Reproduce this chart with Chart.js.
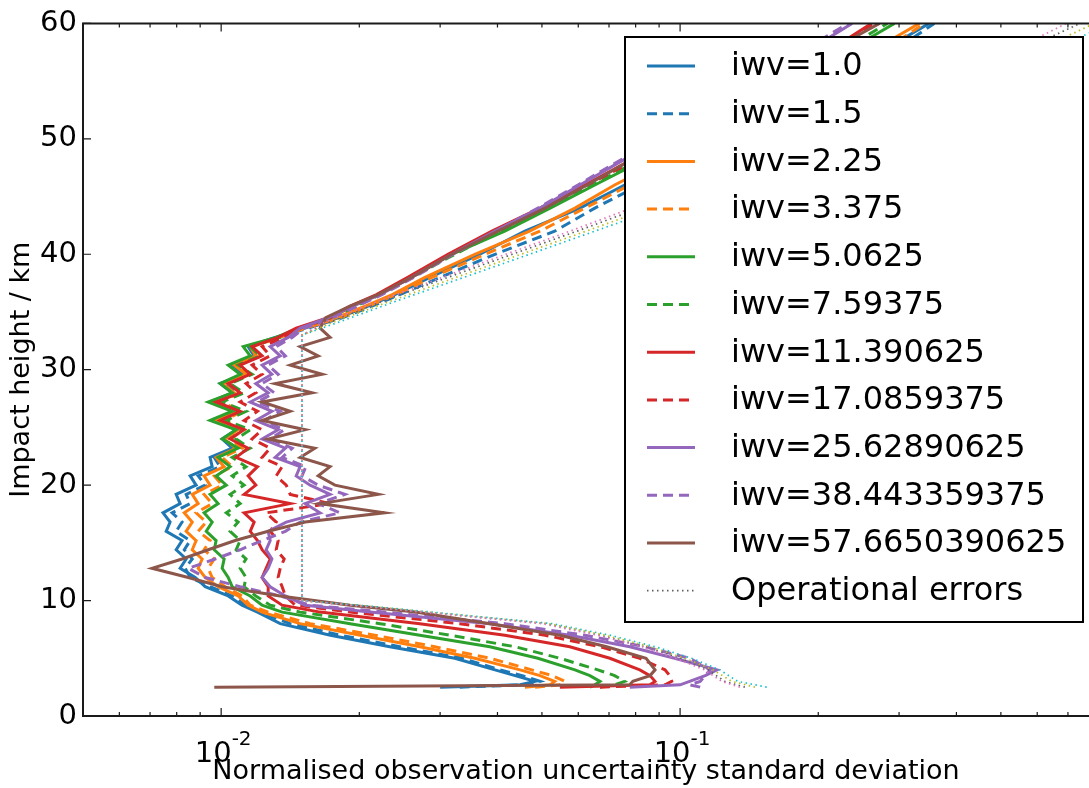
<!DOCTYPE html>
<html><head><meta charset="utf-8">
<script src="https://cdn.jsdelivr.net/npm/chart.js@4.4.0/dist/chart.umd.min.js"></script>
<style>html,body{margin:0;padding:0;background:#fff;overflow:hidden}canvas{display:block}</style>
</head><body>
<canvas id="c" width="1089" height="788"></canvas>
<script>
// Impact heights (km) shared by every iwv series
const HEIGHTS = [2.5, 2.7, 3, 3.5, 4, 5, 6, 7, 8, 9, 9.6,
  10.4, 11.2, 12.0, 12.8, 13.6, 14.4, 15.2, 16.0, 16.8, 17.6, 18.4, 19.2, 20.0, 20.8, 21.6, 22.4, 23.2, 24.0, 24.8,
  25.6, 26.4, 27.2, 28.0, 28.8, 29.6, 30.4, 31.2, 32.0, 32.8,
  33.6, 34.5, 35.5, 36.5, 38, 40, 42, 44, 46, 48, 50, 52, 54, 56, 58, 60];

const SERIES_LABELS = ['iwv=1.0', 'iwv=1.5', 'iwv=2.25', 'iwv=3.375', 'iwv=5.0625', 'iwv=7.59375',
  'iwv=11.390625', 'iwv=17.0859375', 'iwv=25.62890625', 'iwv=38.443359375', 'iwv=57.6650390625'];
const OP_LABEL = 'Operational errors';

const IWV_1_0 = [0.0300, 0.0448, 0.0483, 0.0437, 0.0395, 0.0323, 0.0233, 0.0173, 0.01345, 0.0120, 0.0111,
  0.01036, 0.00923, 0.00878, 0.00814, 0.00839, 0.00798, 0.00822, 0.00759, 0.00774, 0.00747, 0.00814, 0.00798, 0.00882, 0.00856, 0.00956, 0.00946, 0.01057, 0.01005, 0.01078,
  0.00966, 0.01068, 0.00946, 0.01057, 0.00995, 0.01122, 0.01057, 0.0118, 0.01145, 0.01311,
  0.01524, 0.0180, 0.0209, 0.0239, 0.0285, 0.0366, 0.0459, 0.0605, 0.0757, 0.0949, 0.1191, 0.149, 0.182, 0.229, 0.286, 0.349];
const IWV_1_5 = [0.0331, 0.0459, 0.0495, 0.0453, 0.0405, 0.0335, 0.0245, 0.0182, 0.01414, 0.01216, 0.01128,
  0.01057, 0.00946, 0.00856, 0.00835, 0.00865, 0.00831, 0.00856, 0.00798, 0.00822, 0.00782, 0.00856, 0.00839, 0.00923, 0.00891, 0.00995, 0.00966, 0.01078, 0.01015, 0.0110,
  0.00985, 0.01078, 0.00966, 0.01078, 0.01015, 0.01133, 0.01078, 0.0119, 0.01157, 0.01331,
  0.01547, 0.01835, 0.0213, 0.0245, 0.0300, 0.0395, 0.0533, 0.0652, 0.0817, 0.1049, 0.1315, 0.1607, 0.1964, 0.2436, 0.3015, 0.358];
const IWV_2_25 = [0.0459, 0.0521, 0.0533, 0.0495, 0.0448, 0.0357, 0.0271, 0.0201, 0.01486, 0.01228, 0.01145,
  0.01089, 0.00985, 0.00923, 0.00891, 0.00909, 0.00865, 0.00882, 0.00839, 0.00865, 0.00831, 0.00891, 0.00865, 0.00946, 0.00918, 0.01015, 0.00975, 0.01078, 0.01015, 0.01089,
  0.00975, 0.01078, 0.00956, 0.01068, 0.01005, 0.01133, 0.01068, 0.0119, 0.01157, 0.01331,
  0.0151, 0.01781, 0.0206, 0.0236, 0.0278, 0.0357, 0.0470, 0.0590, 0.0720, 0.0903, 0.1134, 0.1421, 0.1750, 0.2180, 0.272, 0.332];
const IWV_3_375 = [0.0483, 0.0547, 0.0561, 0.0526, 0.0475, 0.0385, 0.0292, 0.0216, 0.01563, 0.01266, 0.01157,
  0.01111, 0.0102, 0.00956, 0.00937, 0.00966, 0.00918, 0.00946, 0.00891, 0.00928, 0.00882, 0.00956, 0.00918, 0.01005, 0.00966, 0.01057, 0.01005, 0.01111, 0.01046, 0.01122,
  0.01015, 0.01111, 0.00995, 0.0110, 0.01036, 0.01157, 0.01089, 0.01216, 0.01168, 0.01345,
  0.01524, 0.01816, 0.0209, 0.0240, 0.0288, 0.0376, 0.0495, 0.0620, 0.0777, 0.0973, 0.1220, 0.1505, 0.1867, 0.2323, 0.286, 0.341];
const IWV_5_0625 = [0.0636, 0.0652, 0.0669, 0.0636, 0.0590, 0.0490, 0.0385, 0.0271, 0.0191, 0.01358, 0.01228,
  0.01157, 0.01057, 0.01036, 0.01005, 0.01015, 0.00966, 0.00975, 0.00928, 0.00956, 0.00918, 0.00985, 0.00946, 0.01026, 0.00975, 0.01046, 0.00985, 0.01089, 0.01005, 0.01078,
  0.00946, 0.01057, 0.00937, 0.01057, 0.00995, 0.0110, 0.01036, 0.01157, 0.01117, 0.01318,
  0.01471, 0.01727, 0.0193, 0.0220, 0.0258, 0.0318, 0.0415, 0.0521, 0.0652, 0.0817, 0.1024, 0.1270, 0.1567, 0.1935, 0.2404, 0.2932];
const IWV_7_59375 = [0.0669, 0.0720, 0.0757, 0.0720, 0.0662, 0.0547, 0.0437, 0.0315, 0.0222, 0.01486, 0.01279,
  0.0119, 0.01122, 0.01133, 0.0110, 0.01133, 0.01078, 0.0110, 0.01046, 0.01089, 0.01026, 0.0110, 0.01046, 0.01122, 0.01057, 0.01133, 0.01057, 0.01157, 0.01078, 0.01157,
  0.01026, 0.01133, 0.01005, 0.01122, 0.01046, 0.01168, 0.01089, 0.01216, 0.01157, 0.01345,
  0.01486, 0.01745, 0.0196, 0.0222, 0.0260, 0.0323, 0.0405, 0.0516, 0.0643, 0.0801, 0.1000, 0.1232, 0.1528, 0.1877, 0.2323, 0.2830];
const IWV_11_39 = [0.0547, 0.0860, 0.0882, 0.0860, 0.0817, 0.0703, 0.0575, 0.0415, 0.0271, 0.01643, 0.01358,
  0.01266, 0.01266, 0.01228, 0.01253, 0.01279, 0.01228, 0.0120, 0.01157, 0.0118, 0.01122, 0.01414, 0.01122, 0.0119, 0.01145, 0.0120, 0.01078, 0.01145, 0.01046, 0.01122,
  0.00995, 0.0110, 0.00975, 0.0110, 0.01036, 0.01157, 0.0110, 0.01228, 0.01168, 0.01331,
  0.01457, 0.0171, 0.0191, 0.0218, 0.0255, 0.0312, 0.0389, 0.0495, 0.0620, 0.0769, 0.0959, 0.1180, 0.1456, 0.1775, 0.2180, 0.2613];
const IWV_17_09 = [0.0669, 0.0927, 0.0959, 0.0949, 0.0927, 0.0817, 0.0669, 0.0508, 0.0331, 0.0191, 0.0145,
  0.0138, 0.01358, 0.01331, 0.01345, 0.01372, 0.01318, 0.01331, 0.01279, 0.01318, 0.01253, 0.01727, 0.01414, 0.01386, 0.01318, 0.01358, 0.01228, 0.01279, 0.01168, 0.01228,
  0.01122, 0.0120, 0.0110, 0.0119, 0.01133, 0.01228, 0.01168, 0.01279, 0.01228, 0.01372,
  0.01486, 0.01727, 0.0193, 0.0220, 0.0258, 0.0315, 0.0395, 0.0500, 0.0627, 0.0785, 0.0978, 0.1208, 0.1475, 0.1800, 0.2203, 0.2663];
const IWV_25_63 = [0.0777, 0.1000, 0.1049, 0.1134, 0.1203, 0.0973, 0.0777, 0.0575, 0.0385, 0.0211, 0.01524,
  0.0138, 0.01279, 0.01228, 0.01266, 0.0129, 0.01253, 0.01279, 0.01266, 0.01386, 0.01643, 0.01524, 0.01727, 0.01563, 0.01457, 0.01486, 0.01311, 0.0138, 0.01228, 0.01331,
  0.0119, 0.0129, 0.01157, 0.01266, 0.0119, 0.0129, 0.01228, 0.01345, 0.01279, 0.014,
  0.01486, 0.0171, 0.0193, 0.0222, 0.0260, 0.0318, 0.0395, 0.0495, 0.0605, 0.0740, 0.0912, 0.1106, 0.1350, 0.1630, 0.1964, 0.2370];
const IWV_38_44 = [0.1106, 0.1049, 0.1106, 0.1134, 0.1163, 0.1049, 0.0838, 0.0620, 0.0415, 0.0227, 0.01563,
  0.01345, 0.0110, 0.00923, 0.00848, 0.0097, 0.0110, 0.01228, 0.0138, 0.01486, 0.01816, 0.01627, 0.0186, 0.01627, 0.0150, 0.0153, 0.01358, 0.01428, 0.01279, 0.01372,
  0.0124, 0.01345, 0.0120, 0.01305, 0.01228, 0.01331, 0.01266, 0.0138, 0.01318, 0.01428,
  0.01516, 0.01745, 0.0198, 0.0224, 0.0263, 0.0320, 0.0397, 0.0490, 0.0599, 0.0729, 0.0894, 0.1084, 0.1315, 0.1583, 0.1915, 0.2323];
const IWV_57_67 = [0.00966, 0.0777, 0.0789, 0.0860, 0.0882, 0.0843, 0.0692, 0.0547, 0.0385, 0.0265, 0.0191,
  0.01345, 0.01005, 0.00848, 0.00707, 0.00822, 0.00937, 0.01073, 0.01266, 0.01524, 0.0227, 0.01643, 0.0220, 0.0177, 0.01627, 0.01727, 0.01486, 0.0160, 0.01266, 0.01524,
  0.01228, 0.01414, 0.01228, 0.01578, 0.01311, 0.0166, 0.01414, 0.01627, 0.01486, 0.01727,
  0.01643, 0.0169, 0.0191, 0.0220, 0.0260, 0.0318, 0.0401, 0.0508, 0.0627, 0.0769, 0.0959, 0.1180, 0.1456, 0.1793, 0.2203, 0.2720];

// Operational error profiles (dotted)
const OP_HEIGHTS = [2.5, 3, 4, 5, 6, 7, 8, 9, 9.5, 10, 33, 34, 36, 38, 40, 42, 44, 46, 48, 50, 52, 54, 56, 58, 60];
const OP_A = [0.1384, 0.1251, 0.1151, 0.1000, 0.0838, 0.0669, 0.0508, 0.0278, 0.0206, 0.0150, 0.0150, 0.01685, 0.0227, 0.0312, 0.0431, 0.0596, 0.0817, 0.1106, 0.1475, 0.1964, 0.2613, 0.3467, 0.450, 0.579, 0.744];
const OP_B = [0.1544, 0.1335, 0.1220, 0.1060, 0.0882, 0.0703, 0.0526, 0.0288, 0.0213, 0.0150, 0.0150, 0.0177, 0.0243, 0.0338, 0.0470, 0.0652, 0.0903, 0.1220, 0.1648, 0.2248, 0.3015, 0.404, 0.527, 0.674, 0.863];
const OP_C = [0.1456, 0.1296, 0.1180, 0.1024, 0.0860, 0.0686, 0.0516, 0.0282, 0.0209, 0.0150, 0.0150, 0.01727, 0.0236, 0.0325, 0.0450, 0.0624, 0.0860, 0.1163, 0.1560, 0.2096, 0.2802, 0.3762, 0.483, 0.624, 0.80];
const OP_D = [0.1350, 0.1232, 0.1128, 0.0978, 0.0826, 0.0659, 0.0500, 0.0274, 0.0203, 0.0150, 0.0150, 0.0166, 0.0222, 0.0303, 0.0417, 0.0575, 0.0785, 0.1060, 0.1421, 0.1877, 0.2485, 0.3290, 0.428, 0.551, 0.694];

// Axis ticks
const X_MIN = 0.005, X_MAX = 0.778;
const X_MAJOR_TICKS = [0.01, 0.1];
const X_MAJOR_EXP = ['-2', '-1'];
const X_MINOR_TICKS = [0.006, 0.007, 0.008, 0.009, 0.02, 0.03, 0.04, 0.05, 0.06, 0.07, 0.08, 0.09, 0.2, 0.3, 0.4, 0.5, 0.6, 0.7];
const Y_TICKS = [0, 10, 20, 30, 40, 50, 60];

const SERIES = [IWV_1_0, IWV_1_5, IWV_2_25, IWV_3_375, IWV_5_0625, IWV_7_59375, IWV_11_39, IWV_17_09, IWV_25_63, IWV_38_44, IWV_57_67];
const COLORS = ['#1f77b4', '#1f77b4', '#ff7f0e', '#ff7f0e', '#2ca02c', '#2ca02c', '#d62728', '#d62728', '#9467bd', '#9467bd', '#8c564b'];
const DASHED = [false, true, false, true, false, true, false, true, false, true, false];
const OPS = [OP_A, OP_B, OP_C, OP_D];
const OP_COLORS = ['#606060', '#17becf', '#bcbd22', '#e377c2'];

const FONT = 'DejaVu Sans';
const datasets = [];
SERIES.forEach((s, i) => {
  datasets.push({
    label: SERIES_LABELS[i],
    data: s.map((v, j) => ({x: v, y: HEIGHTS[j]})),
    borderColor: COLORS[i], backgroundColor: COLORS[i],
    borderWidth: 3, borderDash: DASHED[i] ? [10, 6] : [],
    showLine: true, pointRadius: 0, fill: false, tension: 0,
    order: 30 - i
  });
});
OPS.forEach((s, k) => {
  datasets.push({
    label: k === 0 ? OP_LABEL : '',
    data: s.map((v, j) => ({x: v, y: OP_HEIGHTS[j]})),
    borderColor: OP_COLORS[k], backgroundColor: OP_COLORS[k],
    borderWidth: 1.7, borderDash: [1.5, 3.5],
    showLine: true, pointRadius: 0, fill: false, tension: 0,
    order: 5 - k
  });
});

const decor = {
  id: 'decor',
  afterDraw(chart) {
    const ctx = chart.ctx, ca = chart.chartArea;
    const xs = chart.scales.x, ys = chart.scales.y;
    ctx.save();
    // frame
    ctx.strokeStyle = '#1a1a1a'; ctx.lineWidth = 2; ctx.setLineDash([]);
    ctx.beginPath();
    ctx.moveTo(ca.right + 2, ca.top); ctx.lineTo(ca.left, ca.top);
    ctx.lineTo(ca.left, ca.bottom); ctx.lineTo(ca.right + 2, ca.bottom);
    ctx.stroke();
    // ticks (inward)
    ctx.lineWidth = 1.2;
    ctx.beginPath();
    X_MAJOR_TICKS.forEach(v => { const p = xs.getPixelForValue(v);
      ctx.moveTo(p, ca.bottom); ctx.lineTo(p, ca.bottom - 8);
      ctx.moveTo(p, ca.top); ctx.lineTo(p, ca.top + 8); });
    X_MINOR_TICKS.forEach(v => { const p = xs.getPixelForValue(v);
      ctx.moveTo(p, ca.bottom); ctx.lineTo(p, ca.bottom - 4);
      ctx.moveTo(p, ca.top); ctx.lineTo(p, ca.top + 4); });
    Y_TICKS.forEach(v => { const p = ys.getPixelForValue(v);
      ctx.moveTo(ca.left, p); ctx.lineTo(ca.left + 8, p); });
    ctx.stroke();
    // x tick labels 10^n
    ctx.fillStyle = '#000'; ctx.textBaseline = 'alphabetic';
    X_MAJOR_TICKS.forEach((v, i) => {
      const p = xs.getPixelForValue(v);
      ctx.font = '29px "' + FONT + '"';
      const w1 = ctx.measureText('10').width;
      ctx.font = '20px "' + FONT + '"';
      const w2 = ctx.measureText(X_MAJOR_EXP[i]).width;
      const x0 = p - (w1 + w2) / 2 + 2;
      ctx.font = '29px "' + FONT + '"'; ctx.textAlign = 'left';
      ctx.fillText('10', x0, 762);
      ctx.font = '20px "' + FONT + '"';
      ctx.fillText(X_MAJOR_EXP[i], x0 + w1, 745);
    });
    // legend box
    const L = 625, T = 37, R = 1083, B = 622;
    ctx.fillStyle = '#fff';
    ctx.fillRect(L, T, R - L, B - T);
    ctx.strokeStyle = '#000'; ctx.lineWidth = 2;
    ctx.strokeRect(L, T, R - L, B - T);
    const items = chart.data.datasets.filter(d => d.label);
    items.forEach((d, i) => {
      const y = 66 + i * 47.7;
      ctx.strokeStyle = d.borderColor; ctx.lineWidth = d.borderWidth;
      ctx.setLineDash(d.borderDash || []);
      ctx.beginPath(); ctx.moveTo(647, y); ctx.lineTo(695, y); ctx.stroke();
      ctx.setLineDash([]);
      ctx.fillStyle = '#000'; ctx.font = '32px "' + FONT + '"';
      ctx.textAlign = 'left'; ctx.textBaseline = 'middle';
      ctx.fillText(d.label, 731, y + 1);
    });
    ctx.restore();
  }
};

new Chart(document.getElementById('c'), {
  type: 'scatter',
  data: {datasets},
  options: {
    responsive: false, animation: false, devicePixelRatio: 1,
    layout: {padding: {top: 20, right: 0, bottom: 0, left: 0}},
    plugins: {legend: {display: false}, tooltip: {enabled: false}},
    scales: {
      x: {
        type: 'logarithmic', min: X_MIN, max: X_MAX, position: 'bottom',
        grid: {display: false, drawTicks: false}, border: {display: false},
        ticks: {display: false},
        title: {display: true, text: 'Normalised observation uncertainty standard deviation',
          color: '#000', font: {family: FONT, size: 27}, padding: {top: 0, bottom: 0}},
        afterFit(s) { s.height = 72; }
      },
      y: {
        type: 'linear', min: 0, max: 60,
        grid: {display: false, drawTicks: false}, border: {display: false},
        ticks: {stepSize: 10, color: '#000', font: {family: FONT, size: 29}, padding: 6},
        title: {display: true, text: 'Impact height / km', color: '#000',
          font: {family: FONT, size: 27}, padding: {top: 6, bottom: 0}},
        afterFit(s) { s.width = 83; }
      }
    }
  },
  plugins: [decor]
});
</script>
</body></html>
